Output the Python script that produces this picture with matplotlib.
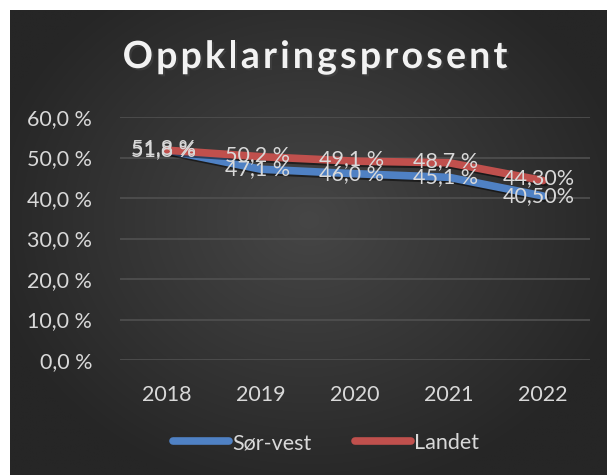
import numpy as np
import matplotlib
matplotlib.use("Agg")
import matplotlib.pyplot as plt
import matplotlib.patheffects as pe
from matplotlib.lines import Line2D

years = ["2018", "2019", "2020", "2021", "2022"]
sor_vest = [51.8, 47.1, 46.0, 45.1, 40.5]
landet = [51.8, 50.2, 49.1, 48.7, 44.3]
sor_vest_labels = ["51,8 %", "47,1 %", "46,0 %", "45,1 %", "40,50%"]
landet_labels = ["51,8 %", "50,2 %", "49,1 %", "48,7 %", "44,30%"]
yticks = [0, 10, 20, 30, 40, 50, 60]
ytick_labels = ["0,0 %", "10,0 %", "20,0 %", "30,0 %", "40,0 %", "50,0 %", "60,0 %"]

W, H = 609, 475
fig = plt.figure(figsize=(W / 100, H / 100), dpi=100)
fig.patch.set_facecolor("white")

FONT = "Lato"
TXT = "#d9d9d9"
FS = 15.5

# background panel with radial gradient
bg = fig.add_axes([10 / W, 0, (607 - 10) / W, (475 - 10) / H])
ny, nx = 300, 400
yy, xx = np.mgrid[0:ny, 0:nx]
r = np.sqrt(((xx - nx * 0.5) / (nx * 0.55)) ** 2 + ((yy - ny * 0.45) / (ny * 0.6)) ** 2)
r = np.clip(r, 0, 1)
c_in = np.array([0x46, 0x46, 0x46]) / 255
c_out = np.array([0x26, 0x26, 0x26]) / 255
img = c_in[None, None, :] * (1 - r[..., None]) + c_out[None, None, :] * r[..., None]
bg.imshow(img, aspect="auto", extent=[0, 1, 0, 1], interpolation="bilinear")
bg.set_axis_off()

# plot axes
x0, x1 = 120, 590
ytop, ybot = 117, 360
ax = fig.add_axes([x0 / W, (H - ybot) / H, (x1 - x0) / W, (ybot - ytop) / H])
ax.set_facecolor("none")
x = np.arange(len(years))
ax.set_xlim(-0.5, len(years) - 0.5)
ax.set_ylim(0, 60)
ax.set_yticks(yticks)
ax.set_yticklabels(ytick_labels)
ax.set_xticks(x)
ax.set_xticklabels(years)
ax.tick_params(length=0, colors=TXT, labelsize=FS)
ax.tick_params(axis="y", pad=20)
ax.tick_params(axis="x", pad=18)
for lab in ax.get_xticklabels() + ax.get_yticklabels():
    lab.set_fontfamily(FONT)
    lab.set_color(TXT)
for s in ax.spines.values():
    s.set_visible(False)
ax.grid(axis="y", color="#505050", linewidth=1.2)
ax.set_axisbelow(True)

blue = "#4f81c4"
red = "#c0504d"
shadow = [pe.SimpleLineShadow(offset=(1.5, -1.5), alpha=0.5, shadow_color="black"), pe.Normal()]
ax.plot(x, sor_vest, color=blue, lw=5.5, solid_capstyle="round", path_effects=shadow, zorder=3)
ax.plot(x, landet, color=red, lw=5.5, solid_capstyle="round", path_effects=shadow, zorder=3)

for xi, v, t in zip(x, sor_vest, sor_vest_labels):
    ax.text(xi - 0.04, v, t, ha="center", va="center", fontsize=FS, color=TXT,
            fontfamily=FONT, zorder=5)
for xi, v, t in zip(x, landet, landet_labels):
    ax.text(xi - 0.04, v + 0.5, t, ha="center", va="center", fontsize=FS, color=TXT,
            fontfamily=FONT, zorder=5)

# title with letter spacing
title = "Oppklaringsprosent"
fig.canvas.draw()
renderer = fig.canvas.get_renderer()
fs = 27
spacing = 3.2  # px
widths = []
for i in range(len(title) + 1):
    if i == 0:
        widths.append(0.0)
        continue
    t = fig.text(0, 0, title[:i], fontsize=fs, fontweight="bold", fontfamily=FONT)
    widths.append(t.get_window_extent(renderer).width)
    t.remove()
total = widths[-1] + spacing * (len(title) - 1)
start = 315 - total / 2
ybase = H - 68
for i, ch in enumerate(title):
    px = start + widths[i] + spacing * i
    fig.text(px / W, ybase / H, ch, fontsize=fs, fontweight="bold", fontfamily=FONT,
             color="#f2f2f2", ha="left", va="baseline",
             path_effects=[pe.withSimplePatchShadow(offset=(1.5, -1.5), alpha=0.5)])

# legend
handles = [Line2D([0], [0], color=blue, lw=5.5, solid_capstyle="round"),
           Line2D([0], [0], color=red, lw=5.5, solid_capstyle="round")]
leg = fig.legend(handles, ["Sør-vest", "Landet"], loc="center", bbox_to_anchor=(326 / W, (H - 443) / H),
                 ncol=2, frameon=False, handlelength=2.6, handletextpad=0.15, columnspacing=2.0,
                 prop={"family": FONT, "size": FS})
for t in leg.get_texts():
    t.set_color(TXT)

fig.savefig("out.png", dpi=100, facecolor="white")
